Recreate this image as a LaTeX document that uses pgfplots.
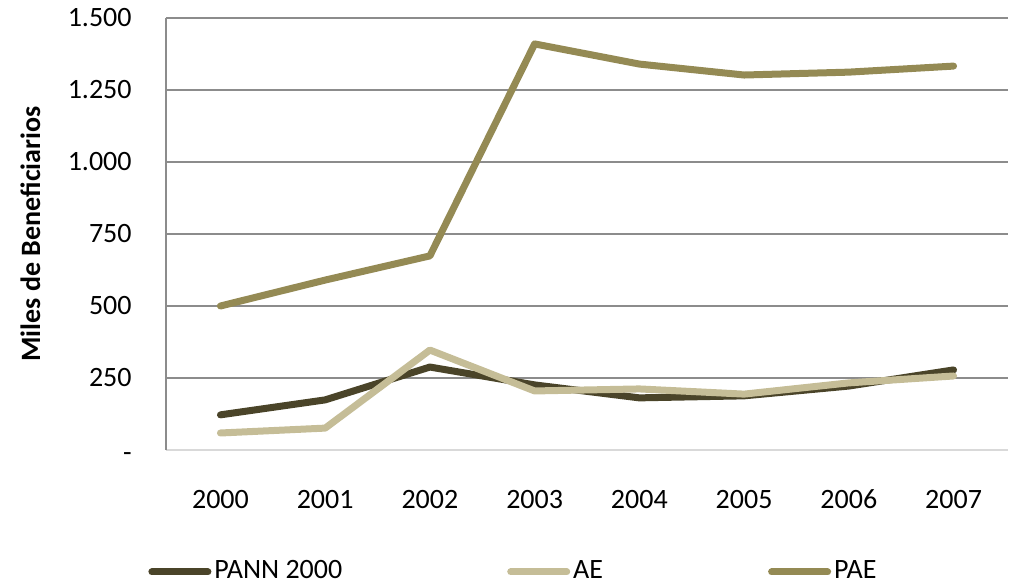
\documentclass[border=0pt]{standalone}
\usepackage{pgfplots}
\pgfplotsset{compat=1.18}
\usepackage{fontspec}
\setmainfont{Carlito}
\definecolor{pann}{HTML}{4A4429}
\definecolor{ae}{HTML}{C5BD97}
\definecolor{pae}{HTML}{948A54}
\definecolor{gridc}{HTML}{8C8C8C}
\definecolor{baseline}{HTML}{D9D9D9}
\begin{document}
\fontsize{14pt}{16pt}\selectfont
\begin{tikzpicture}
\begin{axis}[
  at={(0,0)}, anchor=south west,
  scale only axis,
  width=421pt, height=216pt,
  xmin=1999.48, xmax=2007.52,
  ymin=0, ymax=1500,
  xtick={2000,2001,2002,2003,2004,2005,2006,2007},
  xticklabels={2000,2001,2002,2003,2004,2005,2006,2007},
  ytick={0,250,500,750,1000,1250,1500},
  yticklabels={{\smash{\raisebox{-6pt}{-}}},250,500,750,{1.000},{1.250},{1.500}},
  major tick length=0pt,
  axis x line*=bottom, axis y line*=left,
  x axis line style={color=baseline, line width=0.8pt, -},
  y axis line style={color=gridc, line width=0.8pt, -},
  ymajorgrids,
  grid style={color=gridc, line width=0.8pt},
  tick label style={font=\fontsize{14pt}{16pt}\selectfont},
  yticklabel style={inner sep=0pt, xshift=-17pt},
  xticklabel style={inner sep=0pt, yshift=-19pt, text height=10pt, text depth=0pt},
  ylabel={Miles de Beneficiarios},
  ylabel style={font=\fontsize{14pt}{16pt}\selectfont\bfseries, at={(axis description cs:-0.161,0.5)}, anchor=center},
  legend columns=3,
  legend style={draw=none, at={(rel axis cs:0,0)}, anchor=west, xshift=-9pt, yshift=-61pt,
    inner sep=0pt, column sep=0pt, nodes={inner sep=1.5pt},
    font=\fontsize{14pt}{16pt}\selectfont,
    /tikz/every even column/.append style={column sep=81pt}},
  legend image code/.code={\draw[#1, line cap=round] (0pt,0pt) -- (28pt,0pt);},
  every axis plot/.append style={line width=3.5pt, line join=round, line cap=round},
]
\addplot[color=pann] coordinates {(2000,122) (2001,174) (2002,288) (2003,226) (2004,181) (2005,188) (2006,222) (2007,278)};
\addlegendentry{PANN 2000}
\addplot[color=ae] coordinates {(2000,59) (2001,76) (2002,347) (2003,205) (2004,212) (2005,194) (2006,233) (2007,257)};
\addlegendentry{AE}
\addplot[color=pae] coordinates {(2000,500) (2001,590) (2002,674) (2003,1410) (2004,1340) (2005,1302) (2006,1312) (2007,1333)};
\addlegendentry{PAE}
\end{axis}
\pgfresetboundingbox
\path (-83pt,-68.5pt) rectangle (423.5pt,225pt);
\end{tikzpicture}
\end{document}
